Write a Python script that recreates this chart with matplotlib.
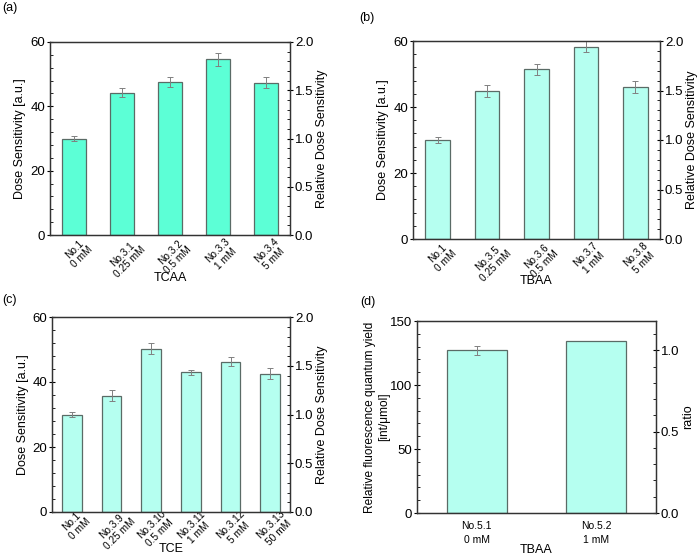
import matplotlib
matplotlib.use("Agg")
import matplotlib.pyplot as plt
from matplotlib.ticker import AutoMinorLocator, MultipleLocator, FormatStrFormatter
from matplotlib.transforms import ScaledTranslation
import numpy as np

plt.rcParams['font.family'] = ['Liberation Sans', 'DejaVu Sans']

# panel (a) TCAA
labels_a = ['No.1\n0 mM', 'No.3.1\n0.25 mM', 'No.3.2\n0.5 mM', 'No.3.3\n1 mM', 'No.3.4\n5 mM']
vals_a = [30.0, 44.3, 47.6, 54.6, 47.3]
errs_a = [0.8, 1.4, 1.5, 2.0, 1.7]

# panel (b) TBAA
labels_b = ['No.1\n0 mM', 'No.3.5\n0.25 mM', 'No.3.6\n0.5 mM', 'No.3.7\n1 mM', 'No.3.8\n5 mM']
vals_b = [30.0, 44.8, 51.4, 58.3, 46.1]
errs_b = [0.8, 1.9, 1.6, 1.6, 1.8]

# panel (c) TCE
labels_c = ['No.1\n0 mM', 'No.3.9\n0.25 mM', 'No.3.10\n0.5 mM', 'No.3.11\n1 mM',
            'No.3.12\n5 mM', 'No.3.13\n50 mM']
vals_c = [30.0, 35.8, 50.3, 43.0, 46.2, 42.5]
errs_c = [0.8, 1.7, 1.6, 0.8, 1.35, 1.7]

# panel (d) TBAA fluorescence
labels_d = ['No.5.1\n0 mM', 'No.5.2\n1 mM']
vals_d = [127.0, 134.0]
errs_d = [3.7, 0.0]

BRIGHT = '#5cffd6'
PALE = '#b5fff0'
EDGE = '#5a6b66'

fig = plt.figure(figsize=(7.0, 5.55), dpi=100)
W, H = 700.0, 555.0


def add_axes(l, t, r, b):
    return fig.add_axes([l / W, 1 - b / H, (r - l) / W, (b - t) / H])


def style_axis(ax, major):
    ax.yaxis.set_major_locator(MultipleLocator(major))
    ax.yaxis.set_minor_locator(AutoMinorLocator(5))
    ax.tick_params(axis='y', which='major', direction='inout', length=4, width=0.8,
                   labelsize=9.5, pad=1.5)
    ax.tick_params(axis='y', which='minor', direction='in', length=2, width=0.6)
    for s in ax.spines.values():
        s.set_color('#333333')
        s.set_linewidth(0.9)


def bar_panel(box, labels, vals, errs, color, xlabel, ymax, rmax, ymajor,
              ylabel, rlabel, xl_off, yl_off, rl_off, rotate=True, xpad=1):
    l, t, r, b = box
    ax = add_axes(l, t, r, b)
    wpx, hpx = r - l, b - t
    x = np.arange(len(vals))
    e = np.array(errs)
    ax.bar(x, vals, width=0.5, color=color, edgecolor=EDGE, linewidth=0.9, zorder=2)
    mask = e > 0
    ax.errorbar(x[mask], np.array(vals)[mask], yerr=e[mask], fmt='none',
                ecolor='#808080', elinewidth=0.7, capsize=2.2, capthick=0.7, zorder=3)
    ax.set_xlim(-0.5, len(vals) - 0.5)
    ax.set_ylim(0, ymax)
    ax.set_xticks(x)
    if rotate:
        ax.set_xticklabels(labels, rotation=45, ha='center', va='top',
                           fontsize=7.3, linespacing=1.2)
        ax.tick_params(axis='x', length=0, pad=xpad)
        shift = ScaledTranslation(3 / 72, 0, fig.dpi_scale_trans)
        for lab in ax.get_xticklabels():
            lab.set_transform(lab.get_transform() + shift)
    else:
        ax.set_xticklabels(labels, fontsize=7.5, linespacing=1.45)
        ax.tick_params(axis='x', length=0, pad=6)
    ax.set_xlabel(xlabel, fontsize=9)
    ax.xaxis.set_label_coords(0.5, -xl_off / hpx)
    ax.xaxis.label.set_va('center')
    ax.set_ylabel(ylabel, fontsize=9)
    ax.yaxis.set_label_coords(-yl_off / wpx, 0.5)
    ax.yaxis.label.set_va('center')
    style_axis(ax, ymajor)
    ax2 = ax.twinx()
    ax2.set_ylim(0, rmax)
    ax2.set_ylabel(rlabel, fontsize=9)
    ax2.yaxis.set_label_coords(1 + rl_off / wpx, 0.5)
    ax2.yaxis.label.set_va('center')
    style_axis(ax2, 0.5)
    ax2.yaxis.set_major_formatter(FormatStrFormatter('%.1f'))
    return ax, ax2


bar_panel((50, 42, 290, 235), labels_a, vals_a, errs_a, BRIGHT, 'TCAA', 60, 2.0, 20,
          'Dose Sensitivity [a.u.]', 'Relative Dose Sensitivity', 43, 30, 32)

bar_panel((413, 41, 660, 239), labels_b, vals_b, errs_b, PALE, 'TBAA', 60, 2.0, 20,
          'Dose Sensitivity [a.u.]', 'Relative Dose Sensitivity', 42, 30, 32)

bar_panel((52, 317, 290, 512), labels_c, vals_c, errs_c, PALE, 'TCE', 60, 2.0, 20,
          'Dose Sensitivity [a.u.]', 'Relative Dose Sensitivity', 37, 29, 32, xpad=-2.5)

ax_d, ax_d2 = bar_panel((417, 321, 656, 513), labels_d, vals_d, errs_d, PALE, 'TBAA',
                        150, 150 / vals_d[0], 50,
                        'Relative fluorescence quantum yield\n[int/\u03bcmol]', 'ratio',
                        37, 40, 32, rotate=False)
ax_d.yaxis.label.set_linespacing(1.15)
ax_d.yaxis.label.set_fontsize(8.6)

for txt, (px, py) in [('(a)', (2, 2)), ('(b)', (359, 12)), ('(c)', (2, 294)), ('(d)', (360, 296))]:
    fig.text(px / W, 1 - py / H, txt, fontsize=9, va='top', ha='left')

fig.savefig('out.png', dpi=100)
